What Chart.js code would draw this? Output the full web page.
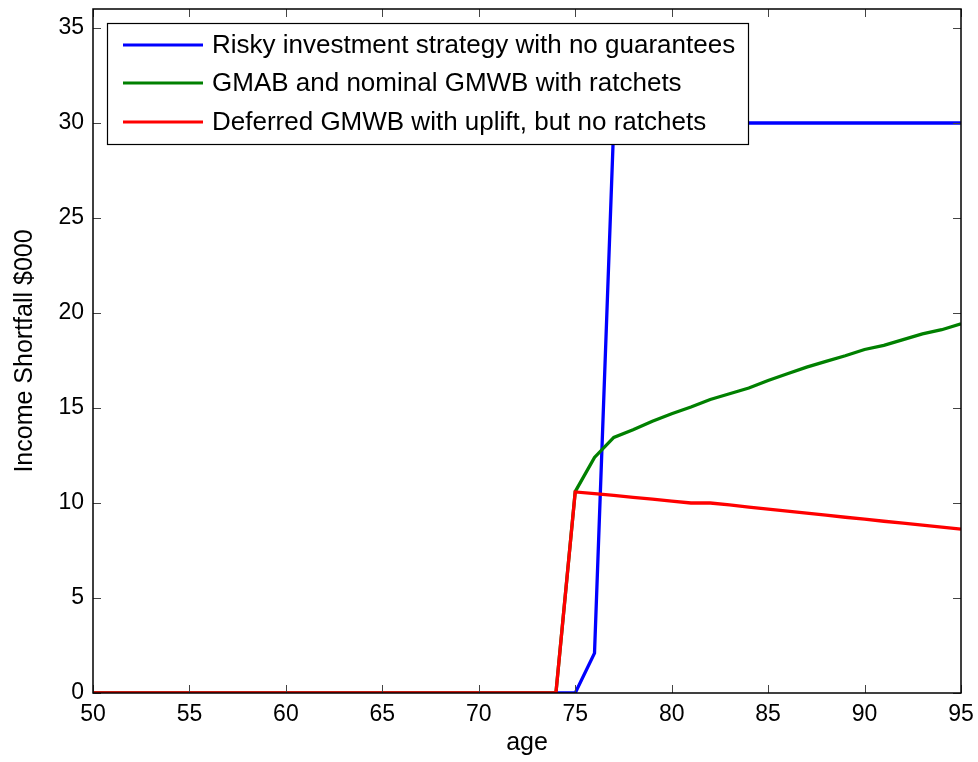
<!DOCTYPE html>
<html>
<head>
<meta charset="utf-8">
<script src="https://cdn.jsdelivr.net/npm/chart.js@4/dist/chart.umd.min.js"></script>
<style>
  html, body { margin: 0; padding: 0; background: #ffffff; }
  #wrap { width: 978px; height: 762px; }
</style>
</head>
<body>
<div id="wrap"><canvas id="c" width="978" height="762"></canvas></div>
<script>
// Age axis (years)
const ages = [50,51,52,53,54,55,56,57,58,59,60,61,62,63,64,65,66,67,68,69,
              70,71,72,73,74,75,76,77,78,79,80,81,82,83,84,85,86,87,88,89,
              90,91,92,93,94,95];

// Income shortfall, $000
const riskyNoGuarantee = [0,0,0,0,0,0,0,0,0,0,0,0,0,0,0,0,0,0,0,0,
                          0,0,0,0,0,0,2.1,30,30,30,30,30,30,30,30,30,30,30,30,30,
                          30,30,30,30,30,30];
const gmabNominalGmwb  = [0,0,0,0,0,0,0,0,0,0,0,0,0,0,0,0,0,0,0,0,
                          0,0,0,0,0,10.6,12.4,13.45,13.85,14.3,14.7,15.05,15.45,15.75,16.05,16.45,16.8,17.15,17.45,17.75,
                          18.08,18.3,18.6,18.9,19.12,19.43];
const deferredGmwb     = [0,0,0,0,0,0,0,0,0,0,0,0,0,0,0,0,0,0,0,0,
                          0,0,0,0,0,10.58,10.49,10.4,10.3,10.2,10.1,10.0,10.0,9.9,9.78,9.68,9.57,9.47,9.36,9.25,
                          9.15,9.04,8.94,8.83,8.73,8.62];

const seriesNames = [
  'Risky investment strategy with no guarantees',
  'GMAB and nominal GMWB with ratchets',
  'Deferred GMWB with uplift, but no ratchets'
];
const seriesColors = ['#0000ff', '#008000', '#ff0000'];

const xTicks = [50,55,60,65,70,75,80,85,90,95];
const yTicks = [0,5,10,15,20,25,30,35];

const FONT = "'Liberation Sans', Arial, Helvetica, sans-serif";

function pts(vals) { return ages.map((a, i) => ({ x: a, y: vals[i] })); }

// Box around the axes with inward tick marks on all four sides
const boxAxes = {
  id: 'boxAxes',
  afterDatasetsDraw(chart) {
    const { ctx, chartArea: a, scales } = chart;
    const L = 8;
    ctx.save();
    ctx.strokeStyle = '#444';
    ctx.lineWidth = 1;
    ctx.beginPath();
    xTicks.forEach(v => {
      const x = Math.round(scales.x.getPixelForValue(v)) + 0.5;
      ctx.moveTo(x, a.bottom); ctx.lineTo(x, a.bottom - L);
      ctx.moveTo(x, a.top); ctx.lineTo(x, a.top + L);
    });
    yTicks.forEach(v => {
      const y = Math.round(scales.y.getPixelForValue(v)) + 0.5;
      ctx.moveTo(a.left, y); ctx.lineTo(a.left + L, y);
      ctx.moveTo(a.right, y); ctx.lineTo(a.right - L, y);
    });
    ctx.stroke();
    ctx.strokeStyle = '#000';
    ctx.lineWidth = 1.5;
    ctx.strokeRect(a.left, a.top, a.right - a.left, a.bottom - a.top);
    ctx.restore();
  }
};

// Legend box inside the plot, upper left
const insetLegend = {
  id: 'insetLegend',
  afterDraw(chart) {
    const { ctx } = chart;
    const bx = 107, by = 23, bw = 641, bh = 121;
    const rows = [45, 83, 122];
    ctx.save();
    ctx.fillStyle = '#ffffff';
    ctx.fillRect(bx, by, bw, bh);
    ctx.strokeStyle = '#000';
    ctx.lineWidth = 1.2;
    ctx.strokeRect(bx + 0.5, by + 0.5, bw, bh);
    ctx.font = '26px ' + FONT;
    ctx.textBaseline = 'middle';
    ctx.textAlign = 'left';
    seriesNames.forEach((name, i) => {
      ctx.strokeStyle = seriesColors[i];
      ctx.lineWidth = 3.2;
      ctx.beginPath();
      ctx.moveTo(123, rows[i]);
      ctx.lineTo(203, rows[i]);
      ctx.stroke();
      ctx.fillStyle = '#000';
      ctx.fillText(name, 212, rows[i] + 1);
    });
    ctx.restore();
  }
};

const values = [riskyNoGuarantee, gmabNominalGmwb, deferredGmwb];

new Chart(document.getElementById('c'), {
  type: 'line',
  data: {
    datasets: values.map((v, i) => ({
      label: seriesNames[i],
      data: pts(v),
      borderColor: seriesColors[i],
      backgroundColor: seriesColors[i],
      borderWidth: 3.3,
      pointRadius: 0,
      tension: 0,
      fill: false,
      order: 2 - i
    }))
  },
  options: {
    responsive: false,
    animation: false,
    devicePixelRatio: 1,
    layout: { padding: { top: 9, right: 17, left: 0, bottom: 0 } },
    plugins: { legend: { display: false }, tooltip: { enabled: false } },
    scales: {
      x: {
        type: 'linear',
        min: 50, max: 95,
        grid: { display: false, drawTicks: false },
        border: { display: false },
        afterBuildTicks(s) { s.ticks = xTicks.map(v => ({ value: v })); },
        afterFit(s) { s.height = 69; s.paddingLeft = 0; s.paddingRight = 0; },
        ticks: { color: '#000', font: { family: FONT, size: 23 }, padding: 8, maxRotation: 0, autoSkip: false },
        title: { display: true, text: 'age', color: '#000', font: { family: FONT, size: 25 }, padding: { top: 0, bottom: 4 } }
      },
      y: {
        type: 'linear',
        min: 0, max: 36,
        grid: { display: false, drawTicks: false },
        border: { display: false },
        afterBuildTicks(s) { s.ticks = yTicks.map(v => ({ value: v })); },
        afterFit(s) { s.width = 93; s.paddingTop = 0; s.paddingBottom = 0; },
        ticks: { color: '#000', font: { family: FONT, size: 23 }, padding: 9, autoSkip: false },
        title: { display: true, text: 'Income Shortfall $000', color: '#000', font: { family: FONT, size: 25 }, padding: { top: 10, bottom: 0 } }
      }
    }
  },
  plugins: [boxAxes, insetLegend]
});
</script>
</body>
</html>
